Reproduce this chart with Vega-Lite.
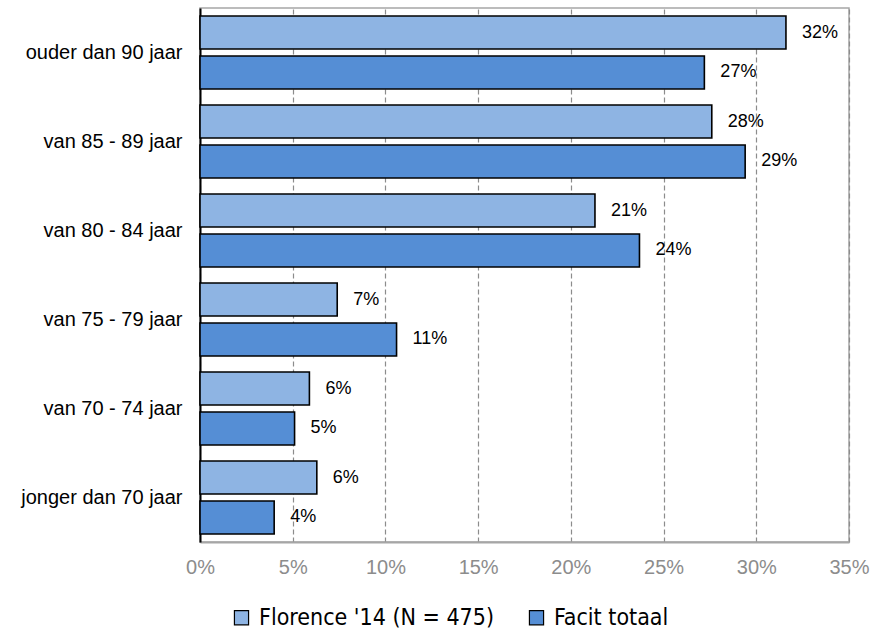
{
  "$schema": "https://vega.github.io/schema/vega-lite/v6.json",
  "width": 649,
  "height": 534,
  "autosize": {"type": "pad"},
  "padding": {"left": 5, "top": 8, "right": 26, "bottom": 5},
  "config": {
    "font": "Liberation Sans",
    "view": {"stroke": "#a6a6a6", "strokeWidth": 1.5}
  },
  "data": {
    "values": [
      {"age": "ouder dan 90 jaar", "series": "Florence '14 (N = 475)", "value": 0.316},
      {"age": "ouder dan 90 jaar", "series": "Facit totaal", "value": 0.272},
      {"age": "van 85 - 89 jaar", "series": "Florence '14 (N = 475)", "value": 0.276},
      {"age": "van 85 - 89 jaar", "series": "Facit totaal", "value": 0.294},
      {"age": "van 80 - 84 jaar", "series": "Florence '14 (N = 475)", "value": 0.213},
      {"age": "van 80 - 84 jaar", "series": "Facit totaal", "value": 0.237},
      {"age": "van 75 - 79 jaar", "series": "Florence '14 (N = 475)", "value": 0.074},
      {"age": "van 75 - 79 jaar", "series": "Facit totaal", "value": 0.106},
      {"age": "van 70 - 74 jaar", "series": "Florence '14 (N = 475)", "value": 0.059},
      {"age": "van 70 - 74 jaar", "series": "Facit totaal", "value": 0.051},
      {"age": "jonger dan 70 jaar", "series": "Florence '14 (N = 475)", "value": 0.063},
      {"age": "jonger dan 70 jaar", "series": "Facit totaal", "value": 0.040}
    ]
  },
  "encoding": {
    "y": {
      "field": "age",
      "type": "nominal",
      "sort": ["ouder dan 90 jaar", "van 85 - 89 jaar", "van 80 - 84 jaar", "van 75 - 79 jaar", "van 70 - 74 jaar", "jonger dan 70 jaar"],
      "scale": {"paddingInner": 0.18, "paddingOuter": 0.09},
      "axis": {
        "title": null,
        "ticks": false,
        "labelPadding": 18,
        "labelFontSize": 20,
        "labelColor": "#000000",
        "domainColor": "#000000",
        "domainWidth": 2,
        "minExtent": 195,
        "maxExtent": 195
      }
    },
    "yOffset": {
      "field": "series",
      "type": "nominal",
      "sort": ["Florence '14 (N = 475)", "Facit totaal"],
      "scale": {"paddingInner": 0.175}
    },
    "x": {
      "field": "value",
      "type": "quantitative",
      "scale": {"domain": [0, 0.35], "nice": false},
      "axis": {
        "title": null,
        "format": ".0%",
        "values": [0, 0.05, 0.1, 0.15, 0.2, 0.25, 0.3, 0.35],
        "ticks": false,
        "labelFlush": false,
        "labelPadding": 15,
        "labelFontSize": 20,
        "labelColor": "#8c8c8c",
        "domainColor": "#a6a6a6",
        "domainWidth": 2,
        "grid": true,
        "gridColor": "#8c8c8c",
        "gridDash": [5, 3],
        "gridWidth": 1.2
      }
    }
  },
  "layer": [
    {
      "mark": {"type": "bar", "stroke": "#000000", "strokeWidth": 1.6},
      "encoding": {
        "color": {
          "field": "series",
          "type": "nominal",
          "sort": ["Florence '14 (N = 475)", "Facit totaal"],
          "scale": {
            "domain": ["Florence '14 (N = 475)", "Facit totaal"],
            "range": ["#8EB4E3", "#558ED5"]
          },
          "legend": {
            "title": null,
            "orient": "none",
            "direction": "horizontal",
            "legendX": 30,
            "legendY": 598,
            "symbolType": "square",
            "symbolSize": 200,
            "symbolStrokeColor": "#000000",
            "symbolStrokeWidth": 1.2,
            "symbolOpacity": 1,
            "labelFont": "DejaVu Sans Condensed, DejaVu Sans, sans-serif",
            "labelFontSize": 23,
            "labelColor": "#000000",
            "labelOffset": 6,
            "columnPadding": 30,
            "labelLimit": 400
          }
        }
      }
    },
    {
      "mark": {"type": "text", "align": "left", "baseline": "middle", "dx": 16, "fontSize": 18, "color": "#000000"},
      "encoding": {
        "text": {"field": "value", "type": "quantitative", "format": ".0%"}
      }
    }
  ]
}
